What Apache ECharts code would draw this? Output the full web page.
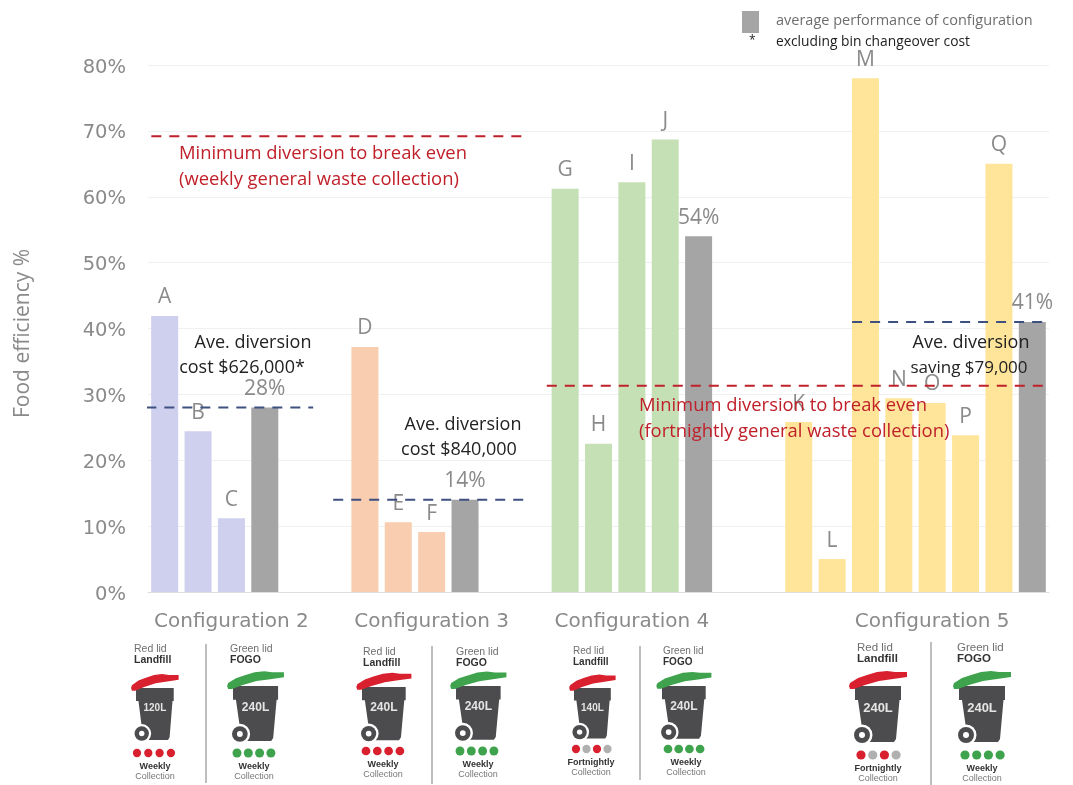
<!DOCTYPE html>
<html>
<head>
<meta charset="utf-8">
<title>Food efficiency by bin configuration</title>
<script src="https://cdn.jsdelivr.net/npm/echarts@6/dist/echarts.min.js"></script>
<style>
  html, body { margin: 0; padding: 0; background: #fff; }
  #chart { width: 1073px; height: 785px; }
</style>
</head>
<body>
<div id="chart"></div>
<script>
// Food efficiency per trial site (%), grouped by bin configuration
const config2Letters = ['A', 'B', 'C'];
const config2Values = [41.9, 24.4, 11.2];
const config3Letters = ['D', 'E', 'F'];
const config3Values = [37.2, 10.6, 9.1];
const config4Letters = ['G', 'H', 'I', 'J'];
const config4Values = [61.2, 22.5, 62.2, 68.7];
const config5Letters = ['K', 'L', 'M', 'N', 'O', 'P', 'Q'];
const config5Values = [25.8, 5, 78, 29.4, 28.7, 23.8, 65];

// Average performance of each configuration (%)
const averages = [28, 14, 54, 41];

// Break-even diversion thresholds (%)
const breakEvenWeekly = 69.2;
const breakEvenFortnightly = 31.3;

const configNames = ['Configuration 2', 'Configuration 3', 'Configuration 4', 'Configuration 5'];
const yTicks = [0, 10, 20, 30, 40, 50, 60, 70, 80];

const GREY_TEXT = '#8a8a8a';
const NAVY = '#3d5080';
const RED = '#c0202a';
const FONT = '"Open Sans", sans-serif';
const AXIS_FONT = '"DejaVu Sans", sans-serif';

// Groups sit on a shared slot axis with two empty slots between them
const groups = [
  { letters: config2Letters, values: config2Values, average: averages[0], color: '#cfcfee', name: configNames[0] },
  { letters: config3Letters, values: config3Values, average: averages[1], color: '#f8cdb0', name: configNames[1] },
  { letters: config4Letters, values: config4Values, average: averages[2], color: '#c6e0b6', name: configNames[2] },
  { letters: config5Letters, values: config5Values, average: averages[3], color: '#ffe59a', name: configNames[3] }
];

const slotLabels = [];
const barData = [];
groups.forEach(function (g, gi) {
  const start = slotLabels.length;
  g.values.forEach(function (v, i) {
    slotLabels.push('');
    barData.push({
      value: v,
      itemStyle: { color: g.color },
      label: { formatter: g.letters[i] }
    });
  });
  slotLabels.push('');
  barData.push({
    value: g.average,
    itemStyle: { color: '#a5a5a5' },
    label: { formatter: g.average + '%' }
  });
  // The group caption sits under the middle of bars plus average
  const mid = gi === 3 ? start + 4 : start + 2;
  slotLabels[mid] = g.name;
  if (gi < 3) {
    slotLabels.push('', '');
    barData.push(null, null);
  }
});

// Horizontal extents of the reference lines, in slot units along the axis
const lineSeries = [
  { y: averages[0], from: -0.05, to: 4.95, color: NAVY },
  { y: averages[1], from: 5.55, to: 11.3, color: NAVY },
  { y: averages[3], from: 21.1, to: 26.9, color: NAVY },
  { y: breakEvenWeekly, from: 0.1, to: 11.3, color: RED },
  { y: breakEvenFortnightly, from: 11.95, to: 27.75, color: RED }
].map(function (l) {
  return {
    type: 'line',
    xAxisIndex: 1,
    yAxisIndex: 0,
    data: [[l.from, l.y], [l.to, l.y]],
    showSymbol: false,
    silent: true,
    clip: false,
    z: 5,
    lineStyle: { color: l.color, width: 2, type: [10, 8] }
  };
});

// Wheelie bin pictogram with its captions
function binIcon(o) {
  const s = o.scale;
  const v = o.vscale;
  const X = function (a) { return o.x + a * s; };
  const Y = function (a) { return o.y + a * v; };
  const P = function (pts) {
    return pts.map(function (p) { return [X(p[0]), Y(p[1])]; });
  };
  const els = [];
  const body = P([[0, 0], [46, 0], [46, 14], [44.5, 14], [41, 53], [39, 56], [9, 56], [3, 14], [1, 14], [0, 14]]);
  const lid = P([[-6, 0], [-5, -3], [3, -8], [12, -11], [22, -14], [32, -15], [40, -14], [52, -14], [52, -9], [38, -7], [24, -5], [10, -1], [-1, 3], [-5, 3]]);
  els.push({ type: 'polygon', shape: { points: body }, style: { fill: '#4c4b4d' } });
  els.push({ type: 'polygon', shape: { points: lid }, style: { fill: o.lid } });
  els.push({ type: 'text', style: { x: X(23), y: Y(22), text: o.size, fill: '#e4e4e4', font: 'bold ' + Math.round(12.5 * s) + 'px "Liberation Sans", sans-serif', align: 'center', verticalAlign: 'middle' } });
  const wr = Math.max(s, 0.9);
  els.push({ type: 'circle', shape: { cx: X(7), cy: Y(49), r: 10.5 * wr }, style: { fill: '#fff' } });
  els.push({ type: 'circle', shape: { cx: X(7), cy: Y(49), r: 8 * wr }, style: { fill: '#4c4b4d' } });
  els.push({ type: 'circle', shape: { cx: X(7), cy: Y(49), r: 3 * wr }, style: { fill: '#fff' } });
  o.dots.forEach(function (c, i) {
    els.push({ type: 'circle', shape: { cx: o.dotX + i * o.dotGap, cy: o.dotY, r: 4.6 * wr }, style: { fill: c } });
  });
  els.push({ type: 'text', style: { x: o.capX, y: o.capY, text: o.lidText, fill: '#6f6f6f', font: o.capSize + 'px "Liberation Sans", sans-serif', verticalAlign: 'middle' } });
  els.push({ type: 'text', style: { x: o.capX, y: o.capY + 11, text: o.stream, fill: '#333', font: 'bold ' + o.capSize + 'px "Liberation Sans", sans-serif', verticalAlign: 'middle' } });
  els.push({ type: 'text', style: { x: o.freqX, y: o.dotY + 14, text: o.freq, fill: '#333', font: 'bold 9px "Liberation Sans", sans-serif', align: 'center', verticalAlign: 'middle' } });
  els.push({ type: 'text', style: { x: o.freqX, y: o.dotY + 24, text: 'Collection', fill: '#777', font: '9px "Liberation Sans", sans-serif', align: 'center', verticalAlign: 'middle' } });
  return els;
}

const R = '#d9202f', G = '#3fa34d', N = '#b0b0b0';
const bins = [
  { x: 136, y: 688, scale: 0.82, vscale: 0.93, capSize: 10.5, lid: R, size: '120L', dots: [R, R, R, R], dotX: 137, dotGap: 11.3, dotY: 753, capX: 134, capY: 649, lidText: 'Red lid', stream: 'Landfill', freq: 'Weekly', freqX: 155 },
  { x: 233, y: 686, scale: 0.98, vscale: 0.98, capSize: 10.5, lid: G, size: '240L', dots: [G, G, G, G], dotX: 237, dotGap: 11.3, dotY: 753, capX: 230, capY: 649, lidText: 'Green lid', stream: 'FOGO', freq: 'Weekly', freqX: 254 },
  { x: 362, y: 687, scale: 0.95, vscale: 0.95, capSize: 10.5, lid: R, size: '240L', dots: [R, R, R, R], dotX: 366, dotGap: 11.3, dotY: 751, capX: 363, capY: 652, lidText: 'Red lid', stream: 'Landfill', freq: 'Weekly', freqX: 383 },
  { x: 456, y: 686, scale: 0.97, vscale: 0.96, capSize: 10.5, lid: G, size: '240L', dots: [G, G, G, G], dotX: 460, dotGap: 11.3, dotY: 751, capX: 456, capY: 652, lidText: 'Green lid', stream: 'FOGO', freq: 'Weekly', freqX: 478 },
  { x: 574, y: 688, scale: 0.8, vscale: 0.9, capSize: 10, lid: R, size: '140L', dots: [R, N, R, N], dotX: 576, dotGap: 10.5, dotY: 749, capX: 573, capY: 651, lidText: 'Red lid', stream: 'Landfill', freq: 'Fortnightly', freqX: 591 },
  { x: 662, y: 686, scale: 0.95, vscale: 0.94, capSize: 10, lid: G, size: '240L', dots: [G, G, G, G], dotX: 668, dotGap: 10.7, dotY: 749, capX: 663, capY: 651, lidText: 'Green lid', stream: 'FOGO', freq: 'Weekly', freqX: 686 },
  { x: 855, y: 686, scale: 1, vscale: 1, capSize: 11.5, lid: R, size: '240L', dots: [R, N, R, N], dotX: 861, dotGap: 11.7, dotY: 755, capX: 857, capY: 648, lidText: 'Red lid', stream: 'Landfill', freq: 'Fortnightly', freqX: 878 },
  { x: 959, y: 686, scale: 1, vscale: 1, capSize: 11.5, lid: G, size: '240L', dots: [G, G, G, G], dotX: 965, dotGap: 11.7, dotY: 755, capX: 957, capY: 648, lidText: 'Green lid', stream: 'FOGO', freq: 'Weekly', freqX: 982 }
];

function divider(x, y1, y2) {
  return { type: 'line', shape: { x1: x, y1: y1, x2: x, y2: y2 }, style: { stroke: '#a8a8a8', lineWidth: 1.5 } };
}

function note(x, y, text, color, size, align) {
  return {
    type: 'text',
    z: 10,
    style: { x: x, y: y, text: text, fill: color, font: size + 'px ' + FONT, align: align || 'left', verticalAlign: 'middle' }
  };
}

let graphicEls = [
  { type: 'rect', shape: { x: 742, y: 11, width: 17, height: 22 }, style: { fill: '#a5a5a5' } },
  note(776, 21, 'average performance of configuration', '#6e6e6e', 14.5),
  note(749, 41, '*', '#222', 12),
  note(776, 42, 'excluding bin changeover cost', '#222', 13.8),
  note(179, 154, 'Minimum diversion to break even', RED, 18.4),
  note(179, 180, '(weekly general waste collection)', RED, 18.4),
  note(639, 406, 'Minimum diversion to break even', RED, 18.4),
  note(639, 432, '(fortnightly general waste collection)', RED, 18.4),
  note(253, 343, 'Ave. diversion', '#222', 18, 'center'),
  note(242, 368, 'cost $626,000*', '#222', 18, 'center'),
  note(463, 425, 'Ave. diversion', '#222', 18, 'center'),
  note(459, 450, 'cost $840,000', '#222', 18, 'center'),
  note(971, 343, 'Ave. diversion', '#222', 18, 'center'),
  note(969, 368, 'saving $79,000', '#222', 17, 'center'),
  divider(206, 644, 783),
  divider(432, 646, 784),
  divider(640, 646, 780),
  divider(931, 642, 785)
];
bins.forEach(function (b) { graphicEls = graphicEls.concat(binIcon(b)); });

const chart = echarts.init(document.getElementById('chart'));
chart.setOption({
  animation: false,
  backgroundColor: '#fff',
  grid: { left: 148, right: 24, top: 65, bottom: 193 },
  xAxis: [
    {
      type: 'category',
      data: slotLabels,
      axisTick: { show: false },
      axisLine: { lineStyle: { color: '#dedede', width: 1 } },
      axisLabel: { interval: 0, color: GREY_TEXT, fontSize: 20, fontFamily: AXIS_FONT, margin: 20, overflow: 'none' }
    },
    { type: 'value', min: 0, max: slotLabels.length, show: false }
  ],
  yAxis: {
    type: 'value',
    min: yTicks[0],
    max: yTicks[yTicks.length - 1],
    interval: 10,
    name: 'Food efficiency %',
    nameLocation: 'middle',
    nameGap: 114,
    nameTextStyle: { color: GREY_TEXT, fontSize: 21, fontFamily: FONT, padding: [0, 10, 0, 0] },
    axisLine: { show: false },
    axisTick: { show: false },
    splitLine: { lineStyle: { color: '#f0f0f0', width: 1 } },
    axisLabel: {
      margin: 22,
      formatter: '{tick|{value}%}',
      rich: { tick: { color: GREY_TEXT, fontSize: 19.5, fontFamily: AXIS_FONT, padding: [5, 0, 0, 0] } }
    }
  },
  series: [
    {
      type: 'bar',
      xAxisIndex: 0,
      yAxisIndex: 0,
      data: barData,
      barWidth: 27,
      label: { show: true, position: 'top', distance: 8, color: GREY_TEXT, fontSize: 21, fontFamily: FONT }
    }
  ].concat(lineSeries),
  graphic: { elements: graphicEls }
});
</script>
</body>
</html>
